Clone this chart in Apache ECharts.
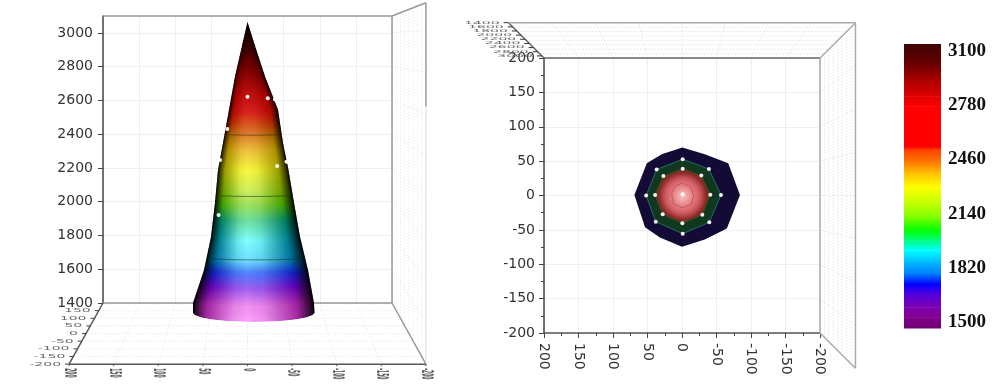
<!DOCTYPE html>
<html>
<head>
<meta charset="utf-8">
<style>
  html, body { margin: 0; padding: 0; background: #fff; }
  #chart { width: 1000px; height: 384px; }
</style>
<script src="https://cdn.jsdelivr.net/npm/echarts@6/dist/echarts.min.js"></script>
</head>
<body>
<div id="chart"></div>
<script>
// tick labels
const heightTicks = [1400, 1600, 1800, 2000, 2200, 2400, 2600, 2800, 3000];
const planTicks = [200, 150, 100, 50, 0, -50, -100, -150, -200];
const legendTicks = [1500, 1820, 2140, 2460, 2780, 3100];

// cone outline
const profileHeight = [3065, 2941, 2741, 2544, 2348, 2188, 1993, 1791, 1596, 1400, 1341];
const profileLeft = [0, 6.6, 17.3, 25.6, 33.9, 40.8, 45, 50.5, 60.2, 75.4, 75.4];
const profileRight = [0, -9, -24.2, -42.2, -49.1, -56.7, -64.4, -72.7, -83.7, -92, -92.7];
const contourHeights = [2401, 2040, 1667];

// cone colours, lit ridge and shaded body
const coneLevels = [3065, 2899, 2781, 2633, 2532, 2473, 2396, 2307, 2188, 2070, 1981, 1892, 1773, 1655, 1584, 1507, 1418, 1288];
const coneCore = ['#000000', '#400000', '#800000', '#c01010', '#d82020', '#d85020', '#e08030', '#f0c040', '#f8f840', '#d0f060', '#a0e060', '#70e0a0', '#80ffff', '#70e0ff', '#5080ff', '#a060f0', '#f090f0', '#ffb0ff'];
const coneBody = ['#000000', '#300000', '#600000', '#a00000', '#b00800', '#b02000', '#a06000', '#b09000', '#a0a000', '#70a000', '#40a000', '#008060', '#008090', '#0070a0', '#1020c0', '#6000b0', '#a020a0', '#a030a0'];

// white sample points, left panel
const sideX = [0, -28, -38, 28, -41, 40, 38, -54];
const sideHeight = [2622, 2613, 2606, 2431, 2212, 1921, 2247, 2237];

// top view, right panel
const outlineX = [-0.5, -33, -67, -84, -65, -33, 0, 32, 53.6, 69, 51, 29.4];
const outlineY = [70, 60, 47, 0.7, -48, -64, -74.5, -61, -46, 0.7, 47, 60];
const outerX = [-1, -39, -56.5, -39.6, -1, 38, 52, 36.7];
const outerY = [52.6, 38.5, 0.7, -39, -55.5, -38, 0, 38];
const innerX = [-1, -28, -41, -29.5, -0.5, 28, 39, 27];
const innerY = [39, 29, 1, -28, -40.5, -27.4, 0.7, 28.4];
const coreX = [0, -12, -17, -13, 0, 12, 15, 11];
const coreY = [18, 13, 0, -13, -18, -12, 2, 13];
const centreX = [-1];
const centreY = [2];

// legend colours
const legendLevels = [3100, 2994, 2900, 2806, 2749, 2523, 2504, 2428, 2372, 2296, 2202, 2126, 2051, 1994, 1938, 1862, 1806, 1749, 1692, 1617, 1560, 1500];
const legendColors = ['#3d0505', '#660000', '#aa0000', '#e00000', '#fe0000', '#ff0000', '#ff4000', '#ff8000', '#ffc000', '#ffff00', '#c0ff00', '#80ff00', '#00ff00', '#00ff80', '#00ffff', '#00b0ff', '#0080ff', '#0000ff', '#5000e0', '#8000b0', '#800090', '#700070'];

const chart = echarts.init(document.getElementById('chart'));

const AXIS_FONT = 'DejaVu Sans';
const LEFT_VIEW = { center: [0, 2941], depth: 0.235 };
const RIGHT_VIEW = { center: [0, 0], depth: 0.257 };
const WALL_TOP = 3133;

const toRgb = (hex) => [1, 3, 5].map((i) => parseInt(hex.slice(i, i + 2), 16));
const mix = (a, b, t) => {
  const ca = toRgb(a);
  const cb = toRgb(b);
  return '#' + ca.map((v, i) => Math.round(v + (cb[i] - v) * t).toString(16).padStart(2, '0')).join('');
};

const lookup = (levels, colors, value) => {
  if (value >= levels[0]) return colors[0];
  for (let i = 1; i < levels.length; i++) {
    if (value >= levels[i]) {
      return mix(colors[i], colors[i - 1], (value - levels[i]) / (levels[i - 1] - levels[i]));
    }
  }
  return colors[colors.length - 1];
};

// 透视投影: depth 0 is the front plane of the box, 1 the far frame
const project = (api, view, x, y, d) => {
  const p = api.coord([x, y]);
  const c = api.coord(view.center);
  const s = 1 + view.depth * d;
  return [c[0] + (p[0] - c[0]) * s, c[1] + (p[1] - c[1]) * s];
};

const baseSeries = (grid) => ({
  type: 'custom',
  coordinateSystem: 'cartesian2d',
  xAxisIndex: grid,
  yAxisIndex: grid,
  silent: true,
  clip: false,
  animation: false
});

// segments: [x1, y1, d1, x2, y2, d2]
const wireSeries = (grid, view, segments, style) => ({
  ...baseSeries(grid),
  data: segments.map((s, i) => [i]),
  encode: { x: 0 },
  renderItem: (params, api) => {
    const s = segments[params.dataIndex];
    const a = project(api, view, s[0], s[1], s[2]);
    const b = project(api, view, s[3], s[4], s[5]);
    return {
      type: 'line',
      shape: { x1: a[0], y1: a[1], x2: b[0], y2: b[1] },
      style: { fill: null, ...style }
    };
  }
});

const DEPTHS = [0.125, 0.25, 0.375, 0.5, 0.625, 0.75, 0.875];

const faintLeft = [];
DEPTHS.forEach((d) => {
  faintLeft.push([200, 1400, d, -200, 1400, d]);
  faintLeft.push([-200, 3100 + (WALL_TOP - 3100) * d, d, -200, 1400, d]);
});
planTicks.slice(1, -1).forEach((x) => faintLeft.push([x, 1400, 0, x, 1400, 1]));
heightTicks.slice(1).forEach((h) => faintLeft.push([-200, h, 0, -200, h, 1]));

const faintRight = [];
DEPTHS.forEach((d) => {
  faintRight.push([200, 200, d, -200, 200, d]);
  faintRight.push([-200, 200, d, -200, -200, d]);
});
planTicks.slice(1, -1).forEach((v) => {
  faintRight.push([v, 200, 0, v, 200, 1]);
  faintRight.push([-200, v, 0, -200, v, 1]);
});

// 锥面: thin gradient strips, clipped to the outline
const BASE_SAG = 0.15;
const coneSeries = () => ({
  ...baseSeries(0),
  data: profileHeight.map((h, i) => [i, h]),
  encode: { x: 0, y: 1 },
  renderItem: (params, api) => {
    if (params.dataIndex !== 0) return null;
    const rows = profileHeight.map((h, i) => ({
      y: api.coord([0, h])[1],
      l: api.coord([profileLeft[i], h])[0],
      r: api.coord([profileRight[i], h])[0]
    }));
    const last = rows[rows.length - 1];
    const halfBase = (last.r - last.l) / 2;
    const outline = rows.map((row) => [row.l, row.y]);
    for (let a = -75; a <= 75; a += 15) {
      const t = (a * Math.PI) / 180;
      outline.push([last.l + halfBase * (1 + Math.sin(t)), last.y + halfBase * BASE_SAG * Math.cos(t)]);
    }
    rows.slice().reverse().forEach((row) => outline.push([row.r, row.y]));

    const ridge = api.coord([0, 0])[0];
    const children = [];
    for (let i = 0; i < rows.length - 1; i++) {
      const steps = Math.max(1, Math.ceil((rows[i + 1].y - rows[i].y) / 2));
      for (let k = 0; k < steps; k++) {
        const t = (k + 0.5) / steps;
        const value = profileHeight[i] + (profileHeight[i + 1] - profileHeight[i]) * t;
        const xl = rows[i].l + (rows[i + 1].l - rows[i].l) * t;
        const xr = rows[i].r + (rows[i + 1].r - rows[i].r) * t;
        const yTop = rows[i].y + ((rows[i + 1].y - rows[i].y) * k) / steps;
        const yBot = rows[i].y + ((rows[i + 1].y - rows[i].y) * (k + 1)) / steps;
        // 越靠近底部弧度越明显
        const sag = value > 1596 ? 0.04 : 0.04 + ((BASE_SAG - 0.04) * (1596 - value)) / 255;
        const half = (xr - xl) / 2;
        const core = lookup(coneLevels, coneCore, value);
        const body = lookup(coneLevels, coneBody, value);
        const points = [];
        for (let a = -90; a <= 90; a += 15) {
          const r = (a * Math.PI) / 180;
          points.push([xl + half * (1 + Math.sin(r)), yTop + half * sag * Math.cos(r) - 1]);
        }
        for (let a = 90; a >= -90; a -= 15) {
          const r = (a * Math.PI) / 180;
          points.push([xl + half * (1 + Math.sin(r)), yBot + half * sag * Math.cos(r)]);
        }
        // 两端留出余量, 由裁剪得到光滑的轮廓
        points[0][0] -= 4;
        points[points.length - 1][0] -= 4;
        points[12][0] += 4;
        points[13][0] += 4;
        const f = Math.min(0.95, Math.max(0.05, (ridge - xl) / Math.max(xr - xl, 1)));
        const dark = mix('#000000', body, 0.35);
        const lit = mix(body, core, 0.85);
        const near = mix(body, core, 0.35);
        const side = (w) => f + (1 - f) * w;
        children.push({
          type: 'polygon',
          shape: { points },
          style: {
            fill: new echarts.graphic.LinearGradient(xl, 0, Math.max(xr, xl + 1), 0, [
              { offset: 0, color: '#000000' },
              { offset: f * 0.07, color: dark },
              { offset: f * 0.25, color: body },
              { offset: f * 0.45, color: near },
              { offset: f * 0.75, color: lit },
              { offset: f, color: core },
              { offset: side(0.25), color: lit },
              { offset: side(0.55), color: near },
              { offset: side(0.75), color: body },
              { offset: side(0.93), color: dark },
              { offset: 1, color: '#000000' }
            ], true)
          }
        });
      }
    }
    return { type: 'group', clipPath: { type: 'polygon', shape: { points: outline } }, children };
  }
});

const contourSeries = () => ({
  ...baseSeries(0),
  data: contourHeights.map((h) => [0, h]),
  encode: { x: 0, y: 1 },
  renderItem: (params, api) => {
    const h = contourHeights[params.dataIndex];
    let i = 0;
    while (profileHeight[i + 1] > h) i++;
    const t = (profileHeight[i] - h) / (profileHeight[i] - profileHeight[i + 1]);
    const lx = profileLeft[i] + (profileLeft[i + 1] - profileLeft[i]) * t;
    const rx = profileRight[i] + (profileRight[i + 1] - profileRight[i]) * t;
    const y = api.coord([0, h])[1];
    const l = api.coord([lx, h])[0];
    const r = api.coord([rx, h])[0];
    const half = (r - l) / 2;
    const points = [];
    for (let a = -60; a <= 60; a += 10) {
      const rad = (a * Math.PI) / 180;
      points.push([l + half * (1 + Math.sin(rad)), y + half * 0.04 * Math.cos(rad)]);
    }
    return {
      type: 'polyline',
      shape: { points },
      style: { fill: null, stroke: 'rgba(20,30,20,0.5)', lineWidth: 1 }
    };
  }
});

const polygonSeries = (xs, ys, style) => ({
  ...baseSeries(1),
  data: xs.map((x, i) => [x, ys[i]]),
  encode: { x: 0, y: 1 },
  renderItem: (params, api) => {
    if (params.dataIndex !== 0) return null;
    return {
      type: 'polygon',
      shape: { points: xs.map((x, i) => api.coord([x, ys[i]])) },
      style
    };
  }
});

const dots = (grid, xs, ys, color) => ({
  type: 'scatter',
  xAxisIndex: grid,
  yAxisIndex: grid,
  silent: true,
  animation: false,
  symbolSize: 4,
  itemStyle: { color, opacity: 0.95 },
  data: xs.map((x, i) => [x, ys[i]])
});

const flatText = (text, x, y, scaleY, align) => ({
  type: 'text',
  x,
  y,
  scaleY,
  style: { text: String(text), fill: '#666', font: `14px "${AXIS_FONT}"`, align, verticalAlign: 'middle' }
});

// 左图底面的刻度和被压扁的文字
const floorLabelSeries = () => ({
  ...baseSeries(0),
  data: [[0, 1400]],
  encode: { x: 0, y: 1 },
  renderItem: (params, api) => {
    const children = [];
    planTicks.forEach((x, i) => {
      const p = project(api, LEFT_VIEW, x, 1400, 1);
      children.push({ type: 'line', shape: { x1: p[0], y1: p[1], x2: p[0], y2: p[1] + 2 }, style: { stroke: '#555', lineWidth: 1 } });
      children.push({
        type: 'group',
        x: p[0],
        y: p[1] + 4,
        scaleY: 0.3,
        children: [{
          type: 'text',
          rotation: -Math.PI / 2,
          style: { text: String(x), fill: '#555', font: `bold 15px "${AXIS_FONT}"`, align: 'left', verticalAlign: 'middle' }
        }]
      });
      if (i > 0) {
        const e = project(api, LEFT_VIEW, 200, 1400, i / 8);
        children.push({ type: 'line', shape: { x1: e[0] - 4, y1: e[1], x2: e[0], y2: e[1] }, style: { stroke: '#444', lineWidth: 1 } });
        children.push(flatText(x, e[0] - 8, e[1], 0.38, 'right'));
      }
    });
    return { type: 'group', children };
  }
});

// 右图左上角的高度刻度
const topLabelSeries = () => ({
  ...baseSeries(1),
  data: [[0, 0]],
  encode: { x: 0, y: 1 },
  renderItem: (params, api) => {
    const children = [];
    heightTicks.forEach((h) => {
      const d = (3100 - h) / 1700;
      const p = project(api, RIGHT_VIEW, 200, 200, d);
      children.push({ type: 'line', shape: { x1: p[0] - 5, y1: p[1], x2: p[0], y2: p[1] }, style: { stroke: '#333', lineWidth: 1 } });
      children.push(flatText(h, p[0] - 9, p[1], 0.24, 'right'));
    });
    return { type: 'group', children };
  }
});

const legendSeries = () => ({
  ...baseSeries(2),
  data: legendLevels.slice(1).map((v) => [0, v]),
  encode: { x: 0, y: 1 },
  renderItem: (params, api) => {
    const i = params.dataIndex;
    const a = api.coord([0, legendLevels[i]]);
    const b = api.coord([1, legendLevels[i + 1]]);
    return {
      type: 'rect',
      shape: { x: a[0], y: a[1], width: b[0] - a[0], height: b[1] - a[1] + 0.5 },
      style: {
        fill: new echarts.graphic.LinearGradient(0, 0, 0, 1, [
          { offset: 0, color: legendColors[i] },
          { offset: 1, color: legendColors[i + 1] }
        ])
      }
    };
  }
});

const plain = (value) => String(value);

const option = {
  backgroundColor: '#fff',
  animation: false,
  grid: [
    { left: 103, top: 16, width: 289, height: 287 },
    { left: 544, top: 58, width: 276, height: 275 },
    { left: 904, top: 44, width: 37, height: 284 },
    { left: 904, top: 51, width: 37, height: 271 }
  ],
  xAxis: [
    {
      gridIndex: 0,
      type: 'value',
      min: -200,
      max: 200,
      interval: 50,
      inverse: true,
      axisLine: { show: false },
      axisTick: { show: false },
      axisLabel: { show: false },
      splitLine: { lineStyle: { color: '#efefef' } }
    },
    {
      gridIndex: 1,
      type: 'value',
      min: -200,
      max: 200,
      interval: 50,
      inverse: true,
      axisLine: { onZero: false, lineStyle: { color: '#555', width: 1.5 } },
      axisTick: { length: 5, lineStyle: { color: '#444' } },
      minorTick: { show: true, splitNumber: 2, length: 3, lineStyle: { color: '#444' } },
      axisLabel: { rotate: -90, margin: 10, color: '#333', fontFamily: AXIS_FONT, fontSize: 14 },
      splitLine: { lineStyle: { color: '#efefef' } }
    },
    { gridIndex: 2, type: 'value', min: 0, max: 1, show: false },
    { gridIndex: 3, type: 'value', min: 0, max: 1, show: false }
  ],
  yAxis: [
    {
      gridIndex: 0,
      type: 'value',
      min: 1400,
      max: 3100,
      interval: 200,
      axisLine: { show: true, onZero: false, lineStyle: { color: '#444', width: 1.5 } },
      axisTick: { show: true, length: 5, customValues: heightTicks, lineStyle: { color: '#444' } },
      axisLabel: { margin: 10, customValues: heightTicks, formatter: plain, color: '#333', fontFamily: AXIS_FONT, fontSize: 14 },
      splitLine: { lineStyle: { color: '#efefef' } }
    },
    {
      gridIndex: 1,
      type: 'value',
      min: -200,
      max: 200,
      interval: 50,
      axisLine: { show: true, onZero: false, lineStyle: { color: '#444', width: 1.5 } },
      axisTick: { show: true, length: 5, lineStyle: { color: '#444' } },
      minorTick: { show: true, splitNumber: 2, length: 3, lineStyle: { color: '#444' } },
      axisLabel: { margin: 9, color: '#333', fontFamily: AXIS_FONT, fontSize: 14 },
      splitLine: { lineStyle: { color: '#efefef' } }
    },
    { gridIndex: 2, type: 'value', min: 1500, max: 3100, show: false },
    {
      gridIndex: 3,
      type: 'value',
      min: 1500,
      max: 3100,
      position: 'right',
      axisLine: { show: false },
      axisTick: { show: false },
      splitLine: { show: false },
      axisLabel: {
        margin: 7,
        customValues: legendTicks,
        formatter: plain,
        color: '#111',
        fontFamily: 'Liberation Serif',
        fontWeight: 'bold',
        fontSize: 19
      }
    }
  ],
  series: [
    wireSeries(0, LEFT_VIEW, faintLeft, { stroke: '#e4e4e4', lineWidth: 1, lineDash: [1, 2] }),
    wireSeries(1, RIGHT_VIEW, faintRight, { stroke: '#dcdcdc', lineWidth: 1, lineDash: [1, 2] }),
    wireSeries(0, LEFT_VIEW, [
      [200, 3100, 0, -200, 3100, 0],
      [-200, 3100, 0, -200, 1400, 0],
      [200, 1400, 0, -200, 1400, 0],
      [-200, 1400, 0, -200, 1400, 1],
      [-200, 3100, 0, -200, WALL_TOP, 1],
      [-200, WALL_TOP, 1, -200, 2634, 1]
    ], { stroke: '#999', lineWidth: 1.5 }),
    wireSeries(0, LEFT_VIEW, [[-200, 2634, 1, -200, 1400, 1]], { stroke: '#ddd', lineWidth: 1 }),
    wireSeries(0, LEFT_VIEW, [
      [200, 1400, 0, 200, 1400, 1],
      [200, 1400, 1, -200, 1400, 1]
    ], { stroke: '#555', lineWidth: 1.5 }),
    wireSeries(1, RIGHT_VIEW, [
      [200, 200, 0, -200, 200, 0],
      [200, 200, 0, 200, 200, 1]
    ], { stroke: '#666', lineWidth: 1.5 }),
    wireSeries(1, RIGHT_VIEW, [
      [-200, 200, 0, -200, -200, 0],
      [200, 200, 1, -200, 200, 1],
      [-200, 200, 1, -200, -200, 1],
      [-200, 200, 0, -200, 200, 1],
      [-200, -200, 0, -200, -200, 1]
    ], { stroke: '#aaa', lineWidth: 1.5 }),
    coneSeries(),
    contourSeries(),
    dots(0, sideX, sideHeight, '#ffffff'),
    polygonSeries(outlineX, outlineY, { fill: '#140a36' }),
    polygonSeries(outerX, outerY, { fill: '#10381f', stroke: '#256a68', lineWidth: 1 }),
    polygonSeries(innerX, innerY, {
      fill: new echarts.graphic.RadialGradient(0.5, 0.5, 0.56, [
        { offset: 0, color: '#f8c4c4' },
        { offset: 0.3, color: '#e88488' },
        { offset: 0.55, color: '#d05a60' },
        { offset: 0.75, color: '#8c2a28' },
        { offset: 0.9, color: '#4a4018' },
        { offset: 1, color: '#3a4c1c' }
      ]),
      stroke: '#3a4c1c',
      lineWidth: 1
    }),
    polygonSeries(coreX, coreY, { fill: 'rgba(0,0,0,0)', stroke: '#c05a60', lineWidth: 1 }),
    dots(1, outerX, outerY, '#ffffff'),
    dots(1, innerX, innerY, '#ffffff'),
    dots(1, centreX, centreY, '#ffffff'),
    floorLabelSeries(),
    topLabelSeries(),
    legendSeries()
  ]
};

chart.setOption(option);
</script>
</body>
</html>
